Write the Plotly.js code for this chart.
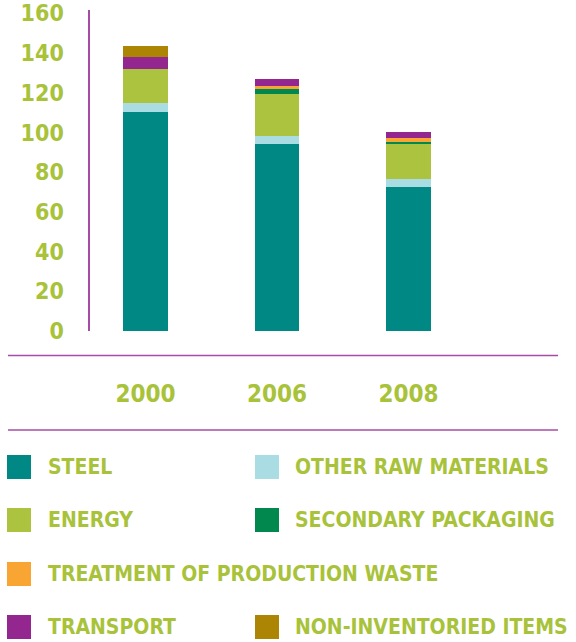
<!DOCTYPE html>
<html>
<head>
<meta charset="utf-8">
<script src="https://cdn.plot.ly/plotly-3.0.1.min.js"></script>
<style>html,body{margin:0;padding:0;background:#fff;}#chart{width:576px;height:642px;}</style>
</head>
<body>
<div id="chart"></div>
<script>
// ---- data ----
var years = ['2000', '2006', '2008'];
var steel = [110.3, 94.2, 72.4];
var otherRaw = [4.5, 4.0, 4.0];
var energy = [17.1, 21.3, 17.6];
var secondaryPackaging = [0, 2.5, 1.0];
var treatmentWaste = [0, 1.2, 2.0];
var transport = [6.0, 3.5, 3.4];
var nonInventoried = [5.5, 0, 0];
var totals = [143.4, 126.7, 100.4];
var seriesNames = ['STEEL', 'OTHER RAW MATERIALS', 'ENERGY', 'SECONDARY PACKAGING',
                   'TREATMENT OF PRODUCTION WASTE', 'TRANSPORT', 'NON-INVENTORIED ITEMS'];
var yTicks = [0, 20, 40, 60, 80, 100, 120, 140, 160];

// ---- styles ----
var colors = ['#008885', '#a9dde3', '#abc33f', '#00884f', '#f9a534', '#93278f', '#ad8505'];
var green = '#a8c23a';
var purple = '#a64ca6';
var FONT = '"DejaVu Sans Condensed", "DejaVu Sans", sans-serif';
function f(size) { return { family: FONT, size: size, color: green, weight: 'bold', stretch: 'condensed' }; }

var seriesValues = [steel, otherRaw, energy, secondaryPackaging, treatmentWaste, transport, nonInventoried];

var L = 90, R = 18, T = 10, B = 311, W = 576, H = 642;
var PW = W - L - R, PH = H - T - B;
function px(x) { return (x - L) / PW; }
function py(y) { return (H - B - y) / PH; }

var traces = seriesValues.map(function (vals, i) {
  return {
    type: 'bar', x: years, y: vals, name: seriesNames[i],
    marker: { color: colors[i], line: { width: 0 } },
    hoverinfo: 'name+y'
  };
});

var annotations = years.map(function (yr, i) {
  return {
    x: yr, y: totals[i], xref: 'x', yref: 'y', text: totals[i].toFixed(1),
    showarrow: false, yanchor: 'bottom', yshift: 5, font: f(15)
  };
});

var shapes = [
  { type: 'line', xref: 'paper', yref: 'paper', x0: px(8), x1: px(558), y0: py(355.5), y1: py(355.5),
    line: { color: purple, width: 1.6 } },
  { type: 'line', xref: 'paper', yref: 'paper', x0: px(8), x1: px(558), y0: py(430), y1: py(430),
    line: { color: purple, width: 1.6 } }
];

// legend slots: [column, row]
var legendSlots = [[0, 0], [1, 0], [0, 1], [1, 1], [0, 2], [0, 3], [1, 3]];
var colSquareX = [7, 255], colTextX = [46, 293];
var rowY = [467, 520, 574, 627];
var sq = 24;
legendSlots.forEach(function (s, i) {
  var cx = colSquareX[s[0]], cy = rowY[s[1]];
  shapes.push({ type: 'rect', xref: 'paper', yref: 'paper', x0: px(cx), x1: px(cx + sq),
    y0: py(cy + sq / 2), y1: py(cy - sq / 2), fillcolor: colors[i], line: { width: 0 } });
  annotations.push({ xref: 'paper', yref: 'paper', x: px(colTextX[s[0]]), y: py(cy),
    xanchor: 'left', yanchor: 'middle', showarrow: false, text: seriesNames[i], font: f(21) });
});

var layout = {
  width: W, height: H,
  margin: { l: L, r: R, t: T, b: B, pad: 0 },
  barmode: 'stack', bargap: 0.658,
  showlegend: false,
  paper_bgcolor: '#ffffff', plot_bgcolor: '#ffffff',
  xaxis: {
    type: 'category', range: [-0.422, 3.137], showline: false, showgrid: false, zeroline: false,
    ticks: '', ticklabelstandoff: 46, tickfont: f(24)
  },
  yaxis: {
    range: [0, 161.7], tickvals: yTicks, ticktext: yTicks.map(String),
    showline: true, linecolor: purple, linewidth: 1.6, showgrid: false, zeroline: false,
    ticks: '', ticklabelstandoff: 20, ticklabeloverflow: 'allow', tickfont: f(23)
  },
  shapes: shapes,
  annotations: annotations
};

Plotly.newPlot('chart', traces, layout, { displayModeBar: false, staticPlot: true });
</script>
</body>
</html>
